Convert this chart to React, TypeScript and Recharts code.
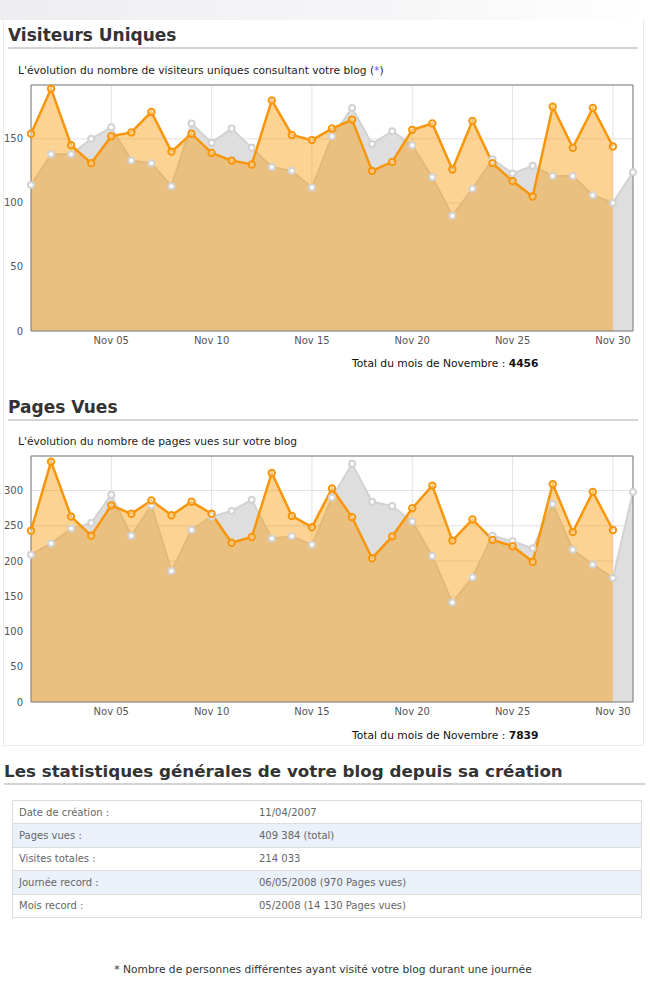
import React from 'react'
import { ComposedChart, Area, XAxis, YAxis, CartesianGrid, ReferenceArea } from 'recharts'

const days = [1, 2, 3, 4, 5, 6, 7, 8, 9, 10, 11, 12, 13, 14, 15, 16, 17, 18, 19, 20, 21, 22, 23, 24, 25, 26, 27, 28, 29, 30, 31]
const xTicks = [5, 10, 15, 20, 25, 30]

// visiteurs uniques
const visitorsNov = [154, 189, 145, 131, 152, 155, 171, 140, 154, 139, 133, 130, 180, 153, 149, 158, 165, 125, 132, 157, 162, 126, 164, 131, 117, 105, 175, 143, 174, 144]
const visitorsPrev = [114, 138, 138, 150, 159, 133, 131, 113, 162, 147, 158, 143, 128, 125, 112, 152, 174, 146, 156, 145, 120, 90, 111, 134, 123, 129, 121, 121, 106, 100, 124]
const visitorsTicks = [0, 50, 100, 150]

// pages vues
const pagesNov = [243, 341, 263, 236, 279, 267, 286, 265, 284, 267, 226, 234, 325, 264, 248, 303, 262, 204, 235, 275, 307, 229, 259, 230, 221, 199, 309, 241, 298, 244]
const pagesPrev = [209, 225, 246, 254, 294, 236, 279, 186, 244, 263, 271, 287, 232, 235, 223, 290, 338, 284, 278, 256, 207, 141, 177, 236, 228, 218, 281, 216, 195, 176, 298]
const pagesTicks = [0, 50, 100, 150, 200, 250, 300]

const statLabels = ['Date de création :', 'Pages vues :', 'Visites totales :', 'Journée record :', 'Mois record :']
const statValues = ['11/04/2007', '409 384 (total)', '214 033', '06/05/2008 (970 Pages vues)', '05/2008 (14 130 Pages vues)']

const FONT = '"DejaVu Sans", Verdana, sans-serif'
const ORANGE = '#f7960c'

function buildRows(current: number[], previous: number[]) {
  return days.map((d, i) => ({ day: d, current: current[i], previous: previous[i] }))
}

function fmtDay(d: number) {
  return 'Nov ' + String(d).padStart(2, '0')
}

function StatChart({ rows, ticks, yMax, top }: { rows: any[]; ticks: number[]; yMax: number; top: number }) {
  return (
    <div style={{ position: 'absolute', left: 0, top }}>
      <ComposedChart width={650} height={276} data={rows} margin={{ top: 10, right: 17, bottom: 0, left: 0 }}>
        <CartesianGrid stroke="#e2e2e2" strokeWidth={1} />
        <XAxis
          dataKey="day"
          type="number"
          domain={[1, 31]}
          ticks={xTicks}
          tickFormatter={fmtDay}
          axisLine={false}
          tickLine={false}
          tickSize={6}
          tickMargin={0}
          height={20}
          tick={{ fill: '#555', fontSize: 10, fontFamily: FONT }}
        />
        <YAxis
          type="number"
          domain={[0, yMax]}
          ticks={ticks}
          axisLine={false}
          tickLine={false}
          width={31}
          tick={{ fill: '#555', fontSize: 10, fontFamily: FONT }}
        />
        <Area
          type="linear"
          dataKey="previous"
          stroke="#d2d2d2"
          strokeWidth={2}
          fill="#dedede"
          fillOpacity={1}
          dot={{ r: 3, stroke: '#d2d2d2', strokeWidth: 2, fill: '#fff' }}
          activeDot={false}
          isAnimationActive={false}
        />
        <Area
          type="linear"
          dataKey="current"
          stroke={ORANGE}
          strokeWidth={2.5}
          fill="#fa9600"
          fillOpacity={0.42}
          dot={{ r: 3.2, stroke: ORANGE, strokeWidth: 2, fill: '#fff' }}
          activeDot={false}
          isAnimationActive={false}
        />
        <ReferenceArea x1={1} x2={31} y1={0} y2={yMax} fill="none" stroke="#7a7a7a" strokeWidth={1} ifOverflow="visible" />
      </ComposedChart>
    </div>
  )
}

function Heading({ text, top, left, width, size }: { text: string; top: number; left: number; width: number; size: number }) {
  return (
    <div
      style={{
        position: 'absolute',
        top,
        left,
        width,
        fontFamily: FONT,
        fontWeight: 'bold',
        fontSize: size,
        color: '#333',
        borderBottom: '2px solid #d4d4d4',
        paddingBottom: 2,
        lineHeight: '20px',
      }}
    >
      {text}
    </div>
  )
}

function Total({ top, value }: { top: number; value: string }) {
  return (
    <div style={{ position: 'absolute', top, left: 352, fontFamily: FONT, fontSize: 10.7, color: '#111' }}>
      Total du mois de Novembre : <b>{value}</b>
    </div>
  )
}

export default function App() {
  const visitorsRows = buildRows(visitorsNov, visitorsPrev)
  const pagesRows = buildRows(pagesNov, pagesPrev)
  return (
    <div style={{ position: 'absolute', left: 0, top: 0, width: 650, height: 985, background: '#fff', fontFamily: FONT }}>
      <div style={{ position: 'absolute', left: 0, top: 0, width: 650, height: 20, background: 'linear-gradient(90deg, #eeeef2 0%, #f6f6f8 60%, #ffffff 100%)' }} />
      <div style={{ position: 'absolute', left: 3, top: 18, width: 639, height: 727, border: '1px solid #ececec', borderTop: 'none' }} />

      <Heading text="Visiteurs Uniques" top={25} left={8} width={630} size={17} />
      <div style={{ position: 'absolute', top: 64, left: 18, fontSize: 10.7, color: '#222' }}>
        L'évolution du nombre de visiteurs uniques consultant votre blog (<span style={{ color: '#3a6fd0' }}>*</span>)
      </div>
      <StatChart rows={visitorsRows} ticks={visitorsTicks} yMax={192} top={75} />
      <Total top={357} value="4456" />

      <Heading text="Pages Vues" top={397} left={8} width={630} size={17} />
      <div style={{ position: 'absolute', top: 435, left: 18, fontSize: 10.7, color: '#222' }}>
        L'évolution du nombre de pages vues sur votre blog
      </div>
      <StatChart rows={pagesRows} ticks={pagesTicks} yMax={349} top={446} />
      <Total top={729} value="7839" />

      <Heading text="Les statistiques générales de votre blog depuis sa création" top={761} left={4} width={641} size={16.7} />

      <div style={{ position: 'absolute', top: 800, left: 12, width: 628, border: '1px solid #dcdcdc' }}>
        {statLabels.map((label, i) => (
          <div
            key={label}
            style={{
              height: 22.4,
              borderTop: i === 0 ? 'none' : '1px solid #dcdcdc',
              background: i % 2 === 1 ? '#eaf1fb' : '#fff',
              display: 'flex',
              alignItems: 'center',
              fontSize: 10,
              color: '#666',
            }}
          >
            <span style={{ width: 240, paddingLeft: 6 }}>{label}</span>
            <span>{statValues[i]}</span>
          </div>
        ))}
      </div>

      <div style={{ position: 'absolute', top: 963, left: 0, width: 646, textAlign: 'center', fontSize: 10.7, color: '#333' }}>
        * Nombre de personnes différentes ayant visité votre blog durant une journée
      </div>
    </div>
  )
}
